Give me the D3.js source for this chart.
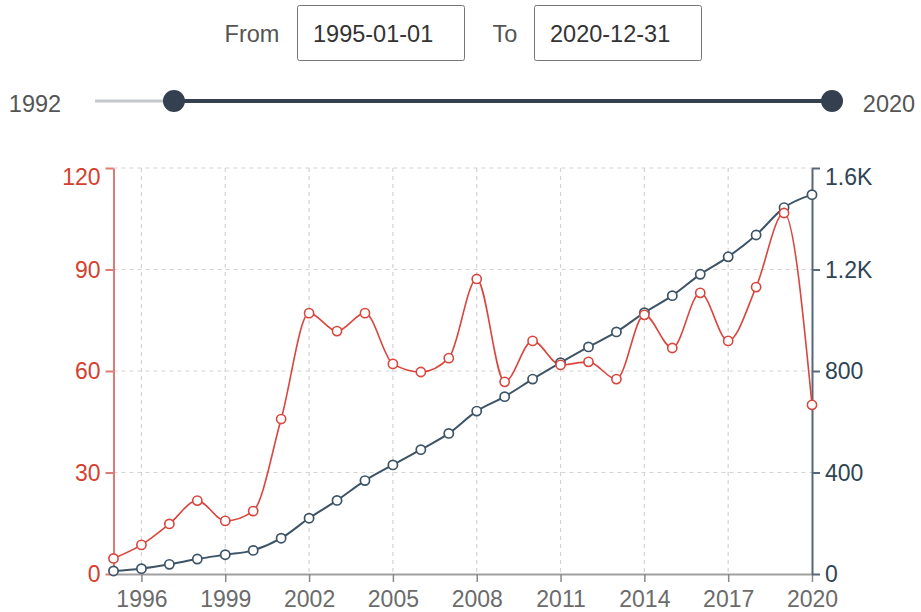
<!DOCTYPE html>
<html><head><meta charset="utf-8">
<script src="https://cdn.jsdelivr.net/npm/d3@7"></script>
<style>html,body{margin:0;padding:0;background:#fff;}svg{display:block;font-family:"Liberation Sans",Arial,sans-serif;}</style>
</head><body>
<svg id="c" width="921" height="612"></svg>
<script>
const years = d3.range(1995, 2021);
const redValues = [4.6, 8.6, 14.8, 21.7, 15.7, 18.6, 45.8, 77.1, 71.8, 77.1, 62.1, 59.7, 63.8, 87.2, 56.8, 68.9, 61.8, 62.7, 57.6, 76.6, 66.8, 83.1, 68.9, 84.8, 106.7, 50];
const darkValues = [12, 21, 38, 59, 76, 93, 141, 220, 290, 368, 430, 490, 554, 642, 699, 768, 833, 895, 954, 1030, 1097, 1181, 1250, 1336, 1444, 1495];
const xTickYears = [1996, 1999, 2002, 2005, 2008, 2011, 2014, 2017, 2020];
const leftTicks = [0, 30, 60, 90, 120];
const rightTicks = [0, 400, 800, 1200, 1600];
const rightTickLabels = ["0", "400", "800", "1.2K", "1.6K"];
const sliderBounds = [1992, 2020];
const sliderRange = [1995, 2020];
const fromLabel = "From", toLabel = "To";
const fromText = "1995-01-01", toText = "2020-12-31";

const RED = "#d9463e", RED_AX = "#e07a75", RED_TXT = "#d5402f", DARK = "#3d5467", DARK_AX = "#56677a";
const FONT = "Liberation Sans, Arial, sans-serif";
const svg = d3.select("#c");

// From / To inputs
const ctrl = svg.append("g").attr("font-size", 23.5);
ctrl.append("text").attr("x", 252).attr("y", 42).attr("text-anchor", "middle").attr("fill", "#555").text(fromLabel);
ctrl.append("rect").attr("x", 297.5).attr("y", 5.5).attr("width", 167).attr("height", 55).attr("rx", 2).attr("fill", "#fff").attr("stroke", "#767676");
ctrl.append("text").attr("x", 313).attr("y", 42).attr("fill", "#333").text(fromText);
ctrl.append("text").attr("x", 505).attr("y", 42).attr("text-anchor", "middle").attr("fill", "#555").text(toLabel);
ctrl.append("rect").attr("x", 534.5).attr("y", 5.5).attr("width", 167).attr("height", 55).attr("rx", 2).attr("fill", "#fff").attr("stroke", "#767676");
ctrl.append("text").attr("x", 550).attr("y", 42).attr("fill", "#333").text(toText);

// Slider
const sx = d3.scaleLinear().domain(sliderBounds).range([95, 832]);
const sy = 101;
svg.append("line").attr("x1", sx(sliderBounds[0])).attr("x2", sx(sliderBounds[1])).attr("y1", sy).attr("y2", sy).attr("stroke", "#c4c7cb").attr("stroke-width", 3);
svg.append("line").attr("x1", sx(sliderRange[0])).attr("x2", sx(sliderRange[1])).attr("y1", sy).attr("y2", sy).attr("stroke", "#343f4f").attr("stroke-width", 4);
sliderRange.forEach(v => svg.append("circle").attr("cx", sx(v)).attr("cy", sy).attr("r", 11).attr("fill", "#343f4f"));
svg.append("text").attr("x", 35).attr("y", 112).attr("text-anchor", "middle").attr("font-size", 23.5).attr("fill", "#555").text(sliderBounds[0]);
svg.append("text").attr("x", 889).attr("y", 112).attr("text-anchor", "middle").attr("font-size", 23.5).attr("fill", "#555").text(sliderBounds[1]);

// Chart
const L = 113.5, R = 812, T = 168, B = 574;
const x = d3.scaleLinear().domain([1995, 2020]).range([L, R]);
const yL = d3.scaleLinear().domain([0, 120]).range([B, T]);
const yR = d3.scaleLinear().domain([0, 1600]).range([B, T]);

const grid = svg.append("g").attr("stroke", "#d4d4d4").attr("stroke-dasharray", "4,4").attr("stroke-width", 1.2);
xTickYears.filter(v => v < 2020).forEach(v => grid.append("line").attr("x1", x(v)).attr("x2", x(v)).attr("y1", T).attr("y2", B));
leftTicks.filter(v => v > 0).forEach(v => grid.append("line").attr("x1", L).attr("x2", R).attr("y1", yL(v)).attr("y2", yL(v)));

// X axis
const xAxis = svg.append("g").attr("transform", `translate(0,${B})`)
  .call(d3.axisBottom(x).tickValues(xTickYears).tickFormat(d3.format("d")).tickSize(8).tickSizeOuter(0));
xAxis.select(".domain").attr("stroke", "#a0a0a0").attr("stroke-width", 2);
xAxis.selectAll(".tick line").attr("stroke", "#888").attr("stroke-width", 1.5);
xAxis.selectAll("text").attr("font-size", 23).attr("fill", "#6b6b6b").attr("y", 33).attr("dy", 0).attr("font-family", FONT);

// Left axis
const lAxis = svg.append("g").attr("transform", `translate(${L},0)`)
  .call(d3.axisLeft(yL).tickValues(leftTicks).tickSize(8).tickSizeOuter(0));
lAxis.select(".domain").attr("stroke", RED_AX).attr("stroke-width", 2);
lAxis.selectAll(".tick line").attr("stroke", RED_AX).attr("stroke-width", 2);
lAxis.selectAll("text").attr("font-size", 23).attr("fill", RED_TXT).attr("x", -13).attr("font-family", FONT)
  .attr("dy", d => d === 120 ? "0.7em" : "0.34em");

// Right axis
const rAxis = svg.append("g").attr("transform", `translate(${R},0)`)
  .call(d3.axisRight(yR).tickValues(rightTicks).tickFormat((d, i) => rightTickLabels[i]).tickSize(8).tickSizeOuter(0));
rAxis.select(".domain").attr("stroke", DARK_AX).attr("stroke-width", 2);
rAxis.selectAll(".tick line").attr("stroke", DARK_AX).attr("stroke-width", 2);
rAxis.selectAll("text").attr("font-size", 23).attr("fill", "#2f4554").attr("x", 13).attr("font-family", FONT)
  .attr("dy", d => d === 1600 ? "0.72em" : "0.34em");

// Lines
const darkData = years.map((yr, i) => [yr, darkValues[i]]);
const redData = years.map((yr, i) => [yr, redValues[i]]);
svg.append("path").datum(darkData).attr("fill", "none").attr("stroke", DARK).attr("stroke-width", 2)
  .attr("d", d3.line().x(d => x(d[0])).y(d => yR(d[1])).curve(d3.curveMonotoneX));
svg.append("path").datum(redData).attr("fill", "none").attr("stroke", RED).attr("stroke-width", 1.6)
  .attr("d", d3.line().x(d => x(d[0])).y(d => yL(d[1])).curve(d3.curveMonotoneX));

svg.append("g").selectAll("circle").data(darkData).join("circle")
  .attr("cx", d => x(d[0])).attr("cy", d => yR(d[1])).attr("r", 4.6)
  .attr("fill", "#fff").attr("stroke", DARK).attr("stroke-width", 1.7);
svg.append("g").selectAll("circle").data(redData).join("circle")
  .attr("cx", d => x(d[0])).attr("cy", d => yL(d[1])).attr("r", 4.6)
  .attr("fill", "#fff").attr("stroke", RED).attr("stroke-width", 1.6);
</script>
</body></html>
